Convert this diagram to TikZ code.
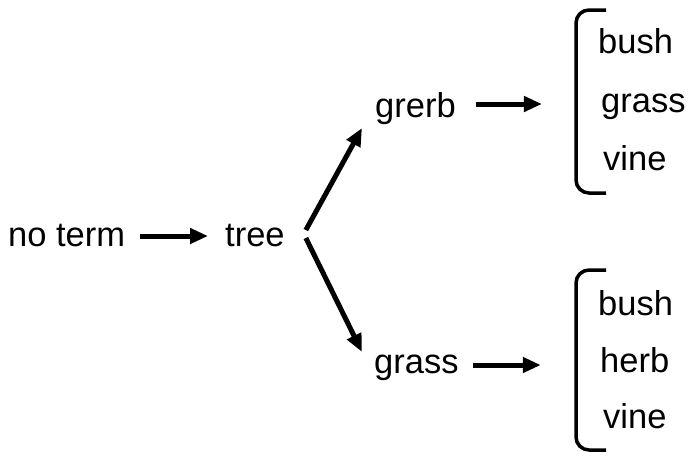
\documentclass[tikz,border=0pt]{standalone}
\usepackage{fontspec}
\setmainfont{Liberation Sans}
\usetikzlibrary{arrows.meta}
\begin{document}
\begin{tikzpicture}[x=1pt,y=1pt,
  lbl/.style={inner sep=0pt,anchor=base west,font=\fontsize{34.5}{40}\selectfont},
  arr/.style={line width=5pt,-{Triangle[length=18pt,width=15pt]}},
  brk/.style={line width=3.5pt,rounded corners=13pt}]
\useasboundingbox (0,0) rectangle (690,-456);
\node[lbl] (noterm) at (8,-246) {no term};
\node[lbl] (tree) at (225,-246) {tree};
\node[lbl] (grerb) at (375,-117) {grerb};
\node[lbl] (grass) at (374,-373) {grass};
\node[lbl] (ub1) at (598,-53) {bush};
\node[lbl] (ub2) at (601,-112) {grass};
\node[lbl] (ub3) at (603,-170) {vine};
\node[lbl] (lb1) at (598,-315) {bush};
\node[lbl] (lb2) at (600,-372) {herb};
\node[lbl] (lb3) at (603,-428) {vine};
\draw[arr] ([xshift=15pt,yshift=10pt]noterm.base east) -- ([xshift=-17pt,yshift=10pt]tree.base west);
\draw[arr] ([xshift=21pt,yshift=16pt]tree.base east) -- ([xshift=-13pt,yshift=-11pt]grerb.base west);
\draw[arr] ([xshift=21pt,yshift=8pt]tree.base east) -- ([xshift=-12pt,yshift=21pt]grass.base west);
\draw[arr] ([xshift=20pt,yshift=13pt]grerb.base east) -- ([xshift=86pt,yshift=13pt]grerb.base east);
\draw[arr] ([xshift=14pt,yshift=8pt]grass.base east) -- ([xshift=82pt,yshift=8pt]grass.base east);
\draw[brk] (606,-10) -- (576,-10) -- (576,-193) -- (606,-193);
\draw[brk] (606,-270) -- (576,-270) -- (576,-450) -- (606,-450);
\end{tikzpicture}
\end{document}
